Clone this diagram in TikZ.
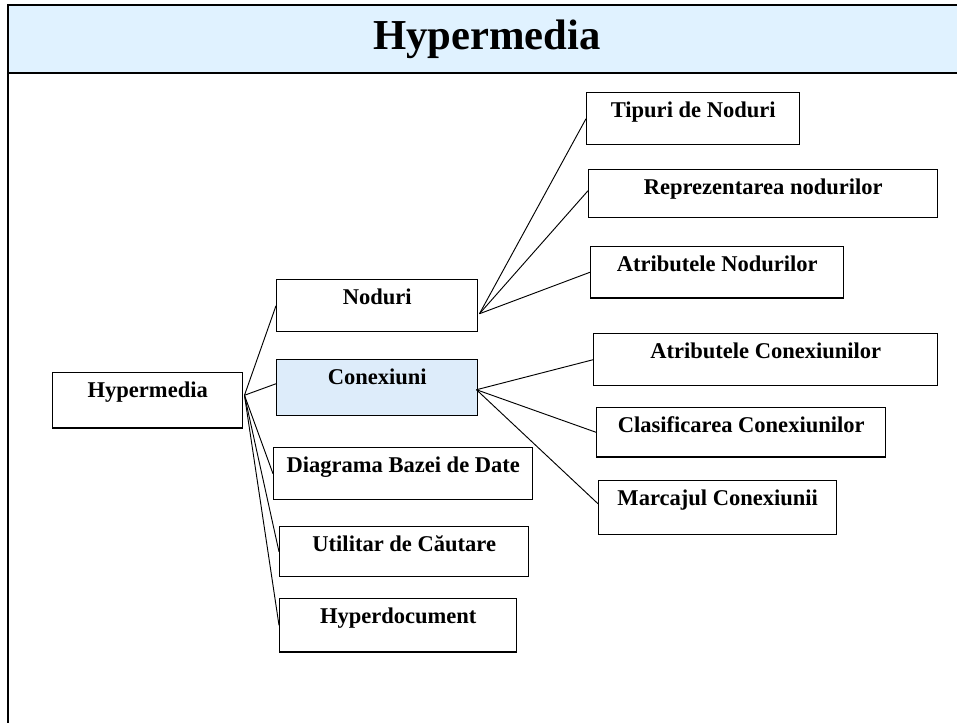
\documentclass[tikz,border=0pt]{standalone}
\usepackage{fontspec}
\setmainfont{Liberation Serif}
\usetikzlibrary{calc}
\definecolor{bandblue}{RGB}{224,242,255}
\definecolor{nodeblue}{RGB}{221,236,250}
\begin{document}
\begin{tikzpicture}[x=0.75pt,y=-0.75pt,
  box/.style={draw, line width=1.1pt, inner sep=0pt, anchor=north west,
    text height=18.4pt, font=\bfseries\fontsize{16.9}{18}\selectfont, align=center},
  link/.style={line width=0.7pt},
  frame/.style={line width=1.6pt},
  titletext/.style={anchor=base, font=\bfseries\fontsize{32}{36}\selectfont}]
\useasboundingbox (0,0) rectangle (957,722);
\clip (0,0) rectangle (957,722);
% title band and frame
\fill[bandblue] (8,5) rectangle (970,73);
\node[titletext] (title) at (487,49) {Hypermedia};
\draw[frame] (970,5) -- (8,5) -- (8,730);
\draw[frame] (8,73) -- (970,73);
% boxes
\node[box, minimum width=142.5pt, text depth=22.9pt] (hyp) at (52,372) {Hypermedia};
\node[box, minimum width=150.75pt, text depth=20.6pt] (nod) at (276,279) {Noduri};
\node[box, minimum width=150.75pt, text depth=23.6pt, fill=nodeblue] (con) at (276,359) {Conexiuni};
\node[box, minimum width=194.25pt, text depth=20.6pt] (dia) at (273,447) {Diagrama Bazei de Date};
\node[box, minimum width=186.75pt, text depth=19.1pt] (uti) at (279,526) {Utilitar de Căutare};
\node[box, minimum width=177.75pt, text depth=21.4pt] (hdoc) at (279,598) {Hyperdocument};
\node[box, minimum width=159.75pt, text depth=20.6pt] (tip) at (586,92) {Tipuri de Noduri};
\node[box, minimum width=261.75pt, text depth=17.6pt] (rep) at (588,169) {Reprezentarea nodurilor};
\node[box, minimum width=189.75pt, text depth=19.9pt] (atn) at (590,246) {Atributele Nodurilor};
\node[box, minimum width=258pt, text depth=20.6pt] (atc) at (593,333) {Atributele Conexiunilor};
\node[box, minimum width=216.75pt, text depth=18.4pt] (cla) at (596,407) {Clasificarea Conexiunilor};
\node[box, minimum width=178.5pt, text depth=22.1pt] (mar) at (598,480) {Marcajul Conexiunii};
% hubs
\coordinate (hh) at ($(hyp.east)+(1,-5)$);
\coordinate (nh) at ($(nod.east)+(1,8)$);
\coordinate (ch) at ($(con.east)+(-2,2)$);
% connectors
\draw[link] (hh) -- (nod.west);
\draw[link] (hh) -- ($(con.west)+(0,-4)$);
\draw[link] (hh) -- (dia.west);
\draw[link] (hh) -- (uti.west);
\draw[link] (hh) -- (hdoc.west);
\draw[link] (nh) -- (tip.west);
\draw[link] (nh) -- ($(rep.west)+(0,-3)$);
\draw[link] (nh) -- (atn.west);
\draw[link] (ch) -- (atc.west);
\draw[link] (ch) -- (cla.west);
\draw[link] (ch) -- ($(mar.west)+(0,-4)$);
\end{tikzpicture}
\end{document}
